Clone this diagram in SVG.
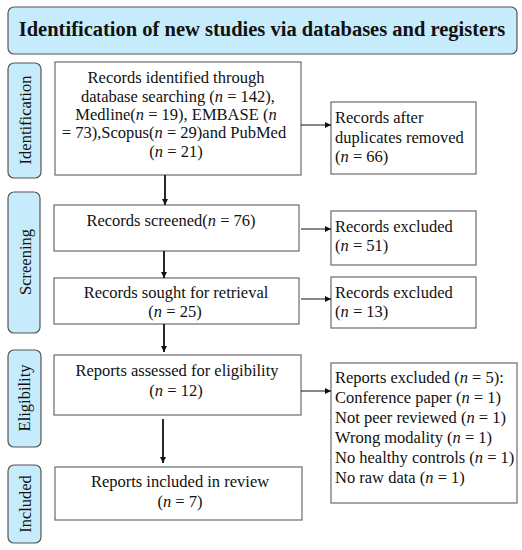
<svg xmlns="http://www.w3.org/2000/svg" width="522" height="550" viewBox="0 0 522 550">
<defs>
<style>
.box{fill:#fff;stroke:#6b6b6b;stroke-width:1.2}
.side{fill:#c6ecfb;stroke:#555;stroke-width:1.2}
text{font-family:"Liberation Serif","Times New Roman",serif;font-size:16.5px;fill:#111}
.c{text-anchor:middle}
.t{font-weight:bold;font-size:20.5px}
.v{stroke:#111;stroke-width:1.8;fill:none}
.h{stroke:#111;stroke-width:1;fill:none}
</style>
<marker id="ah" viewBox="0 0 10 10" refX="10" refY="5" markerWidth="6" markerHeight="6" markerUnits="userSpaceOnUse" orient="auto"><path d="M0,0L10,5L0,10z" fill="#111"/></marker>
<marker id="av" viewBox="0 0 10 10" refX="10" refY="5" markerWidth="6" markerHeight="6" markerUnits="userSpaceOnUse" orient="auto"><path d="M0,0L10,5L0,10z" fill="#111"/></marker>
</defs>
<g id="title"><rect x="8" y="7" width="509" height="47" rx="6" class="side"/><text x="262" y="36" class="c t">Identification of new studies via databases and registers</text></g>
<g id="lbl-identification"><rect x="8" y="63" width="33" height="115" rx="6" class="side"/><text transform="translate(31,120) rotate(-90)" class="c">Identification</text></g>
<g id="lbl-screening"><rect x="8" y="192" width="32" height="141" rx="6" class="side"/><text transform="translate(31,262) rotate(-90)" class="c">Screening</text></g>
<g id="lbl-eligibility"><rect x="8" y="350" width="33" height="97" rx="6" class="side"/><text transform="translate(30,398) rotate(-90)" class="c">Eligibility</text></g>
<g id="lbl-included"><rect x="8" y="465" width="33" height="78" rx="6" class="side"/><text transform="translate(31,504) rotate(-90)" class="c">Included</text></g>
<g id="n-identified"><rect x="55" y="62" width="246" height="113" class="box"/>
<text class="c"><tspan x="176" y="83">Records identified through</tspan><tspan x="178" y="102">database searching (<tspan font-style="italic">n</tspan> = 142),</tspan><tspan x="176" y="120">Medline(<tspan font-style="italic">n</tspan> = 19), EMBASE (<tspan font-style="italic">n</tspan></tspan><tspan x="174" y="138">= 73),Scopus(<tspan font-style="italic">n</tspan> = 29)and PubMed</tspan><tspan x="176" y="157">(<tspan font-style="italic">n</tspan> = 21)</tspan></text></g>
<g id="n-duplicates"><rect x="331" y="102" width="145" height="72" class="box"/>
<text><tspan x="335" y="123">Records after</tspan><tspan x="335" y="143">duplicates removed</tspan><tspan x="335" y="162">(<tspan font-style="italic">n</tspan> = 66)</tspan></text></g>
<g id="n-screened"><rect x="54" y="205" width="245" height="46" class="box"/>
<text class="c" x="171" y="226">Records screened(<tspan font-style="italic">n</tspan> = 76)</text></g>
<g id="n-excl1"><rect x="331" y="211" width="145" height="54" class="box"/>
<text><tspan x="335" y="232">Records excluded</tspan><tspan x="335" y="251">(<tspan font-style="italic">n</tspan> = 51)</tspan></text></g>
<g id="n-sought"><rect x="54" y="278" width="245" height="46" class="box"/>
<text class="c"><tspan x="176" y="298">Records sought for retrieval</tspan><tspan x="175" y="317">(<tspan font-style="italic">n</tspan> = 25)</tspan></text></g>
<g id="n-excl2"><rect x="331" y="277" width="145" height="51" class="box"/>
<text><tspan x="335" y="298">Records excluded</tspan><tspan x="335" y="317">(<tspan font-style="italic">n</tspan> = 13)</tspan></text></g>
<g id="n-assessed"><rect x="54" y="355" width="247" height="60" class="box"/>
<text class="c"><tspan x="177" y="376">Reports assessed for eligibility</tspan><tspan x="176" y="396">(<tspan font-style="italic">n</tspan> = 12)</tspan></text></g>
<g id="n-excl3"><rect x="331" y="363" width="186" height="140" class="box"/>
<text><tspan x="335" y="383">Reports excluded (<tspan font-style="italic">n</tspan> = 5):</tspan><tspan x="335" y="403">Conference paper (<tspan font-style="italic">n</tspan> = 1)</tspan><tspan x="335" y="423">Not peer reviewed (<tspan font-style="italic">n</tspan> = 1)</tspan><tspan x="335" y="443">Wrong modality (<tspan font-style="italic">n</tspan> = 1)</tspan><tspan x="335" y="463">No healthy controls (<tspan font-style="italic">n</tspan> = 1)</tspan><tspan x="335" y="483">No raw data (<tspan font-style="italic">n</tspan> = 1)</tspan></text></g>
<g id="n-included"><rect x="55" y="467" width="247" height="53" class="box"/>
<text class="c"><tspan x="180" y="487">Reports included in review</tspan><tspan x="180" y="507">(<tspan font-style="italic">n</tspan> = 7)</tspan></text></g>
<g id="connectors">
<path class="v" d="M165,175V205" marker-end="url(#av)"/>
<path class="v" d="M164,251V278" marker-end="url(#av)"/>
<path class="v" d="M164,324V352" marker-end="url(#av)"/>
<path class="v" d="M163,419V463" marker-end="url(#av)"/>
<path class="h" d="M301,125H331" marker-end="url(#ah)"/>
<path class="h" d="M301,229H331" marker-end="url(#ah)"/>
<path class="h" d="M301,299H331" marker-end="url(#ah)"/>
<path class="h" d="M301,391H331" marker-end="url(#ah)"/>
</g>
</svg>
